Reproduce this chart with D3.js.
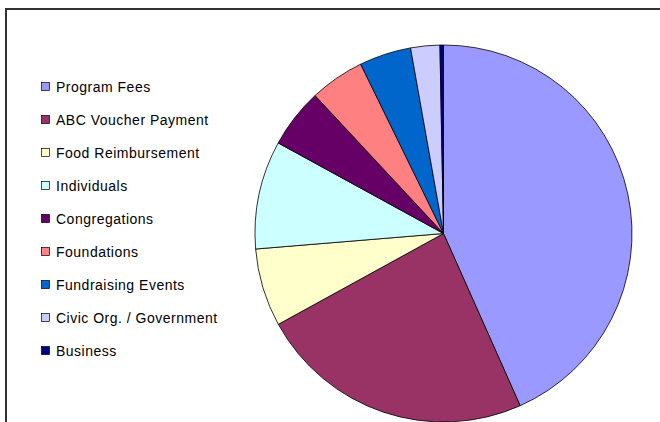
<!DOCTYPE html>
<html lang="en">
<head>
	<meta charset="UTF-8">
	<title>Income sources</title>
	<script src="https://cdn.jsdelivr.net/npm/d3@7"></script>
	<style>
		body{
			margin: 0px;
			background: #fff;
		}
		text{
			font-family: "Liberation Sans", Arial, sans-serif;
			font-size: 14px;
			letter-spacing: 0.5px;
			fill: #000;
		}
	</style>
</head>
<body>
	<svg></svg>
	<script>
		// income categories (percent of total)
		var categories = ["Program Fees", "ABC Voucher Payment", "Food Reimbursement", "Individuals",
			"Congregations", "Foundations", "Fundraising Events", "Civic Org. / Government", "Business"];
		var values = [43.4, 23.7, 6.7, 9.3, 5.1, 4.7, 4.45, 2.5, 0.3];
		var colors = ["#9999ff", "#993366", "#ffffcc", "#ccffff", "#660066", "#ff8080", "#0066cc", "#ccccff", "#000080"];

		var w = 660,
			h = 422,
			svg = d3.select("svg").attr("width", w).attr("height", h);

		// chart frame (runs off the right and bottom edges)
		svg.append("rect")
			.attr("x", 6).attr("y", 9)
			.attr("width", w + 20).attr("height", h + 20)
			.attr("fill", "none")
			.attr("stroke", "#333")
			.attr("stroke-width", 2);

		var cx = 443.5, cy = 233.5, r = 188.5;

		var pie = d3.pie().sort(null).value(d => d);
		var arc = d3.arc().innerRadius(0).outerRadius(r);

		var g = svg.append("g").attr("transform", "translate(" + cx + "," + cy + ")");
		g.selectAll("path")
			.data(pie(values))
			.enter().append("path")
			.attr("d", arc)
			.attr("fill", (d, i) => colors[i])
			.attr("stroke", "#000")
			.attr("stroke-width", 0.8)
			.attr("stroke-linejoin", "round");

		// legend
		var y = d3.scalePoint().domain(categories).range([87, 351]);
		var leg = svg.append("g").selectAll("g")
			.data(categories)
			.enter().append("g")
			.attr("transform", d => "translate(41," + y(d) + ")");

		leg.append("rect")
			.attr("x", 0.5).attr("y", -4.5)
			.attr("width", 8).attr("height", 8)
			.attr("fill", (d, i) => colors[i])
			.attr("stroke", "#000")
			.attr("stroke-width", 0.7);

		leg.append("text")
			.attr("x", 15)
			.attr("y", 4.5)
			.text(d => d);
	</script>
</body>
</html>
